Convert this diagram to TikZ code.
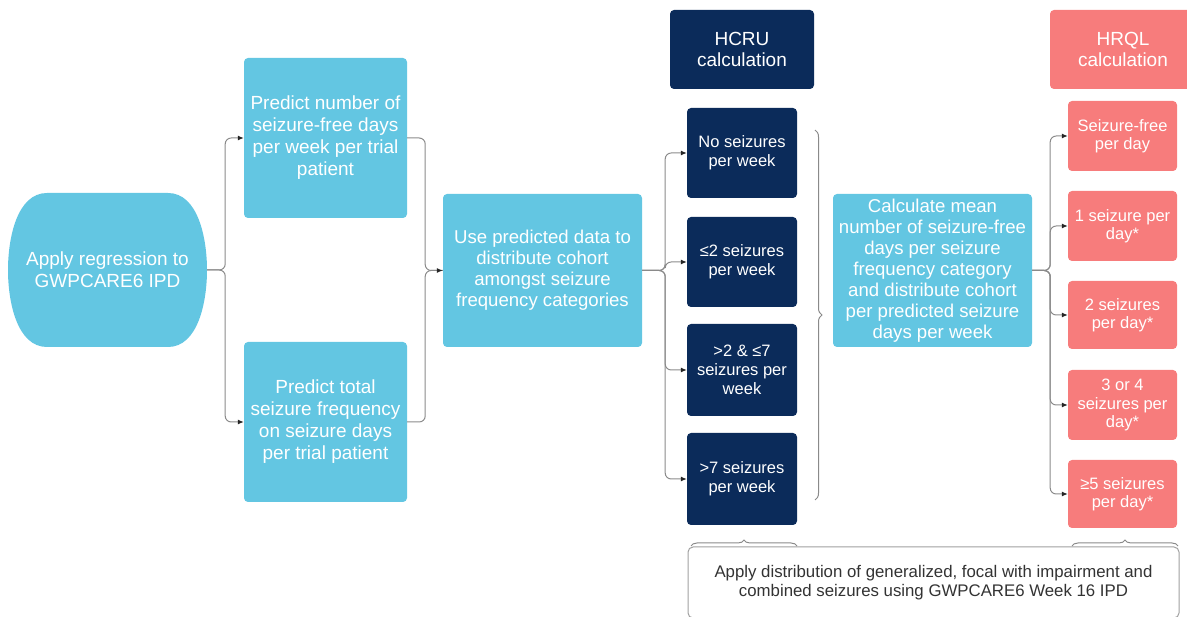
\documentclass[tikz,border=0pt]{standalone}
\usepackage{fontspec}
\setmainfont{Liberation Sans}
\usetikzlibrary{arrows.meta,decorations.pathreplacing,calc}
\definecolor{skyblue}{HTML}{63C6E2}
\definecolor{navy}{HTML}{0B2B5A}
\definecolor{salmon}{HTML}{F77C7C}
\definecolor{linkgray}{HTML}{8A8A8A}
\definecolor{notegray}{HTML}{333333}
\begin{document}
\begin{tikzpicture}[x=1pt,y=-1pt,
  box/.style={rounded corners=4pt, inner sep=0pt, align=center, text=white},
  bluebox/.style={box, fill=skyblue, font=\fontsize{19}{22}\selectfont},
  calcbox/.style={box, fill=skyblue, font=\fontsize{18.6}{21}\selectfont},
  catbox/.style={box, fill=navy, minimum width=110pt, font=\fontsize{16.5}{19}\selectfont},
  daybox/.style={box, fill=salmon, minimum width=109pt, font=\fontsize{16.5}{18.5}\selectfont},
  headbox/.style={box, minimum width=144pt, minimum height=79pt, font=\fontsize{19}{21}\selectfont},
  link/.style={draw=linkgray, line width=1pt, rounded corners=6pt},
  arrowlink/.style={link, -{Latex[length=6pt,width=5pt,color=black!85]}},
  curly/.style={draw=linkgray, line width=1pt, decorate, decoration={brace,amplitude=#1}},
  curly/.default=7pt
]
\useasboundingbox (0,0) rectangle (1187,617);

% starting step: flat top and bottom with bulging sides
\fill[skyblue] (47,193) -- (168,193)
  .. controls (198,193) and (207,238) .. (207,270)
  .. controls (207,302) and (198,347) .. (168,347)
  -- (47,347)
  .. controls (17,347) and (8,302) .. (8,270)
  .. controls (8,238) and (17,193) .. (47,193) -- cycle;
\node[inner sep=0pt, minimum width=199pt, minimum height=154pt, align=center,
      text=white, font=\fontsize{19}{22}\selectfont]
  (start) at (107.5,270) {Apply regression to\\GWPCARE6 IPD};

% regression outputs
\node[bluebox, minimum width=163pt, minimum height=160pt] (p1) at (325.5,138)
  {Predict number of\\seizure-free days\\per week per trial\\patient};
\node[bluebox, minimum width=163pt, minimum height=160pt] (p2) at (325.5,422)
  {Predict total\\seizure frequency\\on seizure days\\per trial patient};

% cohort distribution
\node[calcbox, minimum width=199pt, minimum height=153pt] (use) at (542.5,270.5)
  {Use predicted data to\\distribute cohort\\amongst seizure\\frequency categories};

% HCRU column
\node[headbox, fill=navy] (hcru) at (742,49.5) {HCRU\\calculation};
\node[catbox, minimum height=90pt] (d1) at (742,153) {No seizures\\per week};
\node[catbox, minimum height=90pt] (d2) at (742,262) {≤2 seizures\\per week};
\node[catbox, minimum height=92pt] (d3) at (742,370) {>2 \& ≤7\\seizures per\\week};
\node[catbox, minimum height=92pt] (d4) at (742,479) {>7 seizures\\per week};

% mean seizure-free days
\node[calcbox, minimum width=199pt, minimum height=153pt] (calc) at (932.5,270.5)
  {Calculate mean\\number of seizure-free\\days per seizure\\frequency category\\and distribute cohort\\per predicted seizure\\days per week};

% HRQL column
\node[headbox, fill=salmon, minimum width=146pt] (hrql) at (1123,49.5) {HRQL\\calculation};
\node[daybox, minimum height=70pt] (r1) at (1122.5,136) {Seizure-free\\per day};
\node[daybox, minimum height=70pt] (r2) at (1122.5,226) {1 seizure per\\day*};
\node[daybox, minimum height=68pt] (r3) at (1122.5,315) {2 seizures\\per day*};
\node[daybox, minimum height=70pt] (r4) at (1122.5,405) {3 or 4\\seizures per\\day*};
\node[daybox, minimum height=68pt] (r5) at (1122.5,494) {≥5 seizures\\per day*};

% footnote box
\node[draw=linkgray!80, line width=1pt, rounded corners=5pt, fill=white,
      minimum width=491pt, minimum height=71pt, inner sep=0pt, align=center,
      text=notegray, font=\fontsize{16.8}{19}\selectfont]
  (note) at (933.5,582.5)
  {Apply distribution of generalized, focal with impairment and\\combined seizures using GWPCARE6 Week 16 IPD};

% connectors: regression to predictions
\draw[arrowlink] (start.east) -- ++(18,0) |- (p1.west);
\draw[arrowlink] (start.east) -- ++(18,0) |- (p2.west);
% predictions merge into distribution step
\draw[link] (p1.east) -- ++(18,0) |- (use.west);
\draw[arrowlink] (p2.east) -- ++(18,0) |- (use.west);
% distribution to frequency categories
\foreach \n in {d1,d2,d3,d4}
  \draw[arrowlink] (use.east) -- ++(23,0) |- (\n.west);
% mean calculation to per-day categories
\foreach \n in {r1,r2,r3,r4,r5}
  \draw[arrowlink] (calc.east) -- ++(18,0) |- (\n.west);

% brace gathering the frequency categories
\coordinate (gtop) at (815,130);
\coordinate (gbot) at (815,500);
\draw[curly] (gtop) -- (gbot);

% braces tying the footnote to both columns
\coordinate (hl) at (691,546);
\coordinate (hr) at (797,546);
\draw[curly=6pt] (hl) -- (hr);
\coordinate (ql) at (1072,546);
\coordinate (qr) at (1178,546);
\draw[curly=6pt] (ql) -- (qr);
\end{tikzpicture}
\end{document}
